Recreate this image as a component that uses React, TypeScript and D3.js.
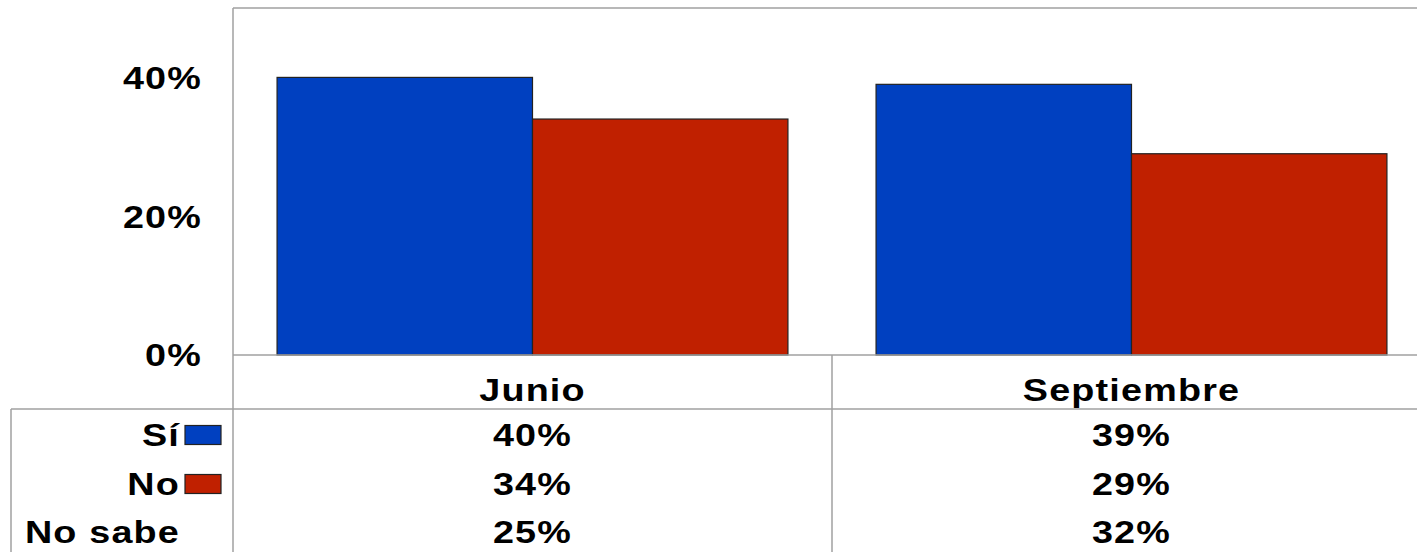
import React from "react";
import * as d3 from "d3";

const categories = ["Junio", "Septiembre"];
const seriesNames = ["Sí", "No"];
const siValues = [40, 39];
const noValues = [34, 29];
const noSabeValues = [25, 32];
const yTicks = [0, 20, 40];
const seriesColors = ["#0040C0", "#C02000"];

const W = 1417;
const H = 552;
const plotLeft = 233;
const plotRight = 1431;
const plotTop = 8;
const baseY = 355;
const headerBottom = 409;
const tableLeft = 11;
const fontFamily = "'Liberation Sans', Arial, Helvetica, sans-serif";
const fs = 32;
const sx = 1.18;
const gridColor = "#a0a0a0";

function T({ x, y, anchor, children, size = fs }: any) {
  return (
    <text
      transform={`translate(${x},${y}) scale(${sx},1)`}
      textAnchor={anchor}
      dominantBaseline="central"
      fontFamily={fontFamily}
      fontWeight="bold"
      fontSize={size}
      letterSpacing={1}
      fill="#000"
    >
      {children}
    </text>
  );
}

export default function App() {
  const x = d3.scaleBand<string>().domain(categories).range([plotLeft, plotRight]).paddingInner(0).paddingOuter(0);
  const inner = d3.scaleBand<string>().domain(seriesNames).range([0, x.bandwidth()]).paddingInner(0).paddingOuter(0.1725);
  const y = d3.scaleLinear().domain([0, 50]).range([baseY, plotTop]);
  const seriesValues = [siValues, noValues];
  const rows = [
    { label: "Sí", values: siValues, color: seriesColors[0], cy: 435 },
    { label: "No", values: noValues, color: seriesColors[1], cy: 484 },
    { label: "No sabe", values: noSabeValues, color: null, cy: 532 },
  ];
  return (
    <svg width={W} height={H} style={{ position: "fixed", left: 0, top: 0, background: "#fff" }}>
      <rect x={0} y={0} width={W} height={H} fill="#fff" />
      {/* plot frame */}
      <line x1={plotLeft} x2={W} y1={plotTop} y2={plotTop} stroke={gridColor} strokeWidth={1.5} />
      <line x1={plotLeft} x2={plotLeft} y1={plotTop} y2={H} stroke={gridColor} strokeWidth={1.5} />
      {/* bars */}
      {categories.map((c, ci) =>
        seriesNames.map((s, si) => {
          const v = seriesValues[si][ci];
          return (
            <rect
              key={c + s}
              x={(x(c) as number) + (inner(s) as number)}
              y={y(v)}
              width={inner.bandwidth()}
              height={baseY - y(v)}
              fill={seriesColors[si]}
              stroke="#222"
              strokeWidth={1.2}
            />
          );
        })
      )}
      {/* baseline and table lines */}
      <line x1={plotLeft} x2={W} y1={baseY} y2={baseY} stroke={gridColor} strokeWidth={1.5} />
      <line x1={tableLeft} x2={W} y1={headerBottom} y2={headerBottom} stroke={gridColor} strokeWidth={1.5} />
      <line x1={tableLeft} x2={tableLeft} y1={headerBottom} y2={H} stroke={gridColor} strokeWidth={1.5} />
      {categories.slice(1).map((c) => (
        <line key={c} x1={x(c) as number} x2={x(c) as number} y1={baseY} y2={H} stroke={gridColor} strokeWidth={1.5} />
      ))}
      {/* y tick labels */}
      {yTicks.map((t) => (
        <T key={t} x={202} y={y(t)} anchor="end">
          {t}%
        </T>
      ))}
      {/* header */}
      {categories.map((c) => (
        <T key={c} x={(x(c) as number) + x.bandwidth() / 2} y={390} anchor="middle">
          {c}
        </T>
      ))}
      {/* rows */}
      {rows.map((r) => (
        <g key={r.label}>
          <T x={180} y={r.cy} anchor="end">
            {r.label}
          </T>
          {r.color && (
            <rect x={185} y={r.cy - 9.5} width={36} height={19} fill={r.color} stroke="#222" strokeWidth={1.2} />
          )}
          {categories.map((c, ci) => (
            <T key={c} x={(x(c) as number) + x.bandwidth() / 2} y={r.cy} anchor="middle">
              {r.values[ci]}%
            </T>
          ))}
        </g>
      ))}
    </svg>
  );
}
